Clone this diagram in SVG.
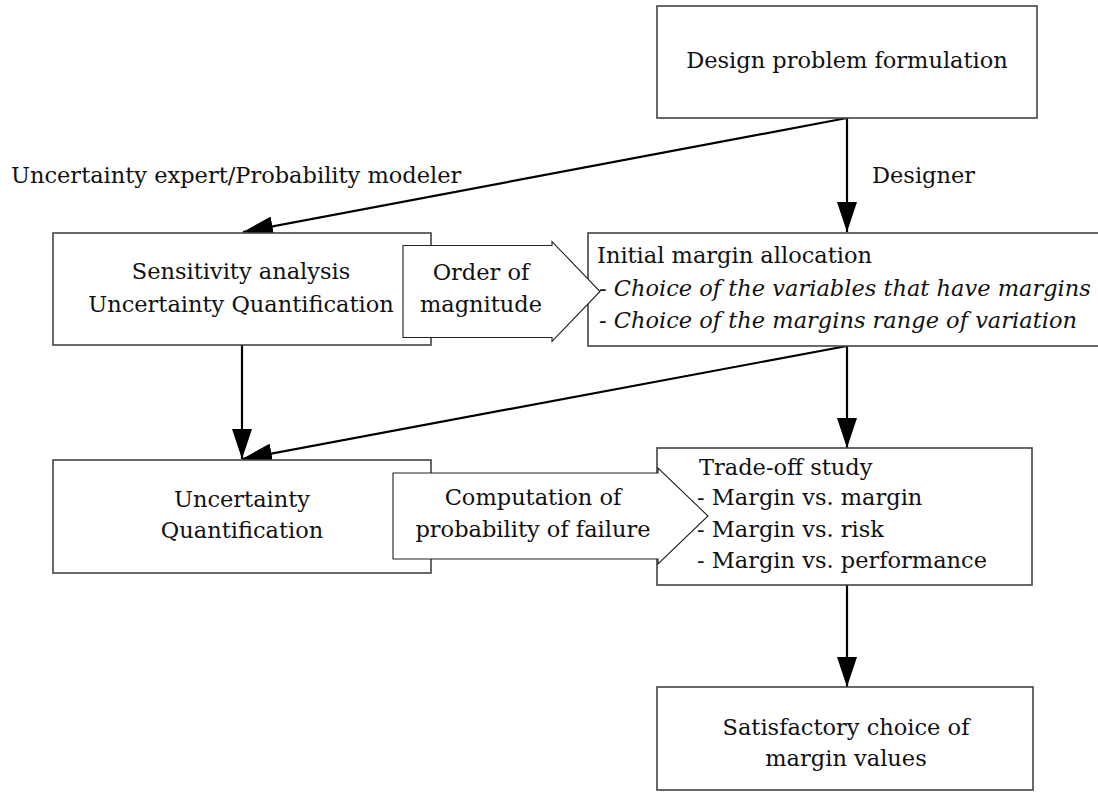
<svg xmlns="http://www.w3.org/2000/svg" width="1098" height="800" viewBox="0 0 1098 800">
<defs>
<style>
.box{fill:#fff;stroke:#444;stroke-width:1.6}
.big{fill:#fff;stroke:#222;stroke-width:1.1}
text{font-family:'DejaVu Serif',serif;font-size:22.5px;fill:#111}
.c{text-anchor:middle}
.it{font-style:italic}
.conn{stroke:#000;stroke-width:2.2;fill:none;marker-end:url(#ah)}
</style>
<marker id="ah" markerUnits="userSpaceOnUse" markerWidth="30" markerHeight="20" refX="30" refY="10" orient="auto" viewBox="0 0 30 20">
<path d="M0,0 L30,10 L0,20 z" fill="#000"/>
</marker>
</defs>
<rect width="1098" height="800" fill="#fff"/>

<g id="connectors">
<line class="conn" x1="847" y1="118" x2="847" y2="232"/>
<line class="conn" x1="847" y1="118" x2="243" y2="232"/>
<line class="conn" x1="242" y1="345" x2="242" y2="459"/>
<line class="conn" x1="847" y1="346" x2="242" y2="459"/>
<line class="conn" x1="847" y1="346" x2="847" y2="448"/>
<line class="conn" x1="847" y1="585" x2="847" y2="687"/>
<text x="11" y="183">Uncertainty expert/Probability modeler</text>
<text x="872" y="183">Designer</text>
</g>

<g id="design">
<rect class="box" x="657" y="6" width="380" height="112"/>
<text class="c" x="847" y="68">Design problem formulation</text>
</g>

<g id="sensitivity">
<rect class="box" x="53" y="233" width="378" height="112"/>
<text class="c" x="241" y="279">Sensitivity analysis</text>
<text class="c" x="241" y="312">Uncertainty Quantification</text>
</g>

<g id="initial">
<rect class="box" x="588" y="233" width="530" height="113"/>
<text x="597" y="263">Initial margin allocation</text>
<text class="it" x="599" y="296">- Choice of the variables that have margins</text>
<text class="it" x="599" y="328">- Choice of the margins range of variation</text>
</g>

<g id="order">
<polygon class="big" points="403,245.5 552,245.5 552,241.5 600,291.5 552,341.5 552,337.5 403,337.5"/>
<text class="c" x="481" y="280">Order of</text>
<text class="c" x="481" y="312">magnitude</text>
</g>

<g id="uq">
<rect class="box" x="53" y="460" width="378" height="113"/>
<text class="c" x="242" y="507">Uncertainty</text>
<text class="c" x="242" y="538">Quantification</text>
</g>

<g id="tradeoff">
<rect class="box" x="657" y="448" width="375" height="137"/>
<text x="699" y="475">Trade-off study</text>
<text x="697" y="505">- Margin vs. margin</text>
<text x="697" y="537">- Margin vs. risk</text>
<text x="697" y="568">- Margin vs. performance</text>
</g>

<g id="compute">
<polygon class="big" points="393,473 658,473 658,468 708,516 658,564 658,559 393,559"/>
<text class="c" x="533" y="505">Computation of</text>
<text class="c" x="533" y="537">probability of failure</text>
</g>

<g id="satisfactory">
<rect class="box" x="657" y="687" width="376" height="103"/>
<text class="c" x="846" y="735">Satisfactory choice of</text>
<text class="c" x="846" y="766">margin values</text>
</g>
</svg>
